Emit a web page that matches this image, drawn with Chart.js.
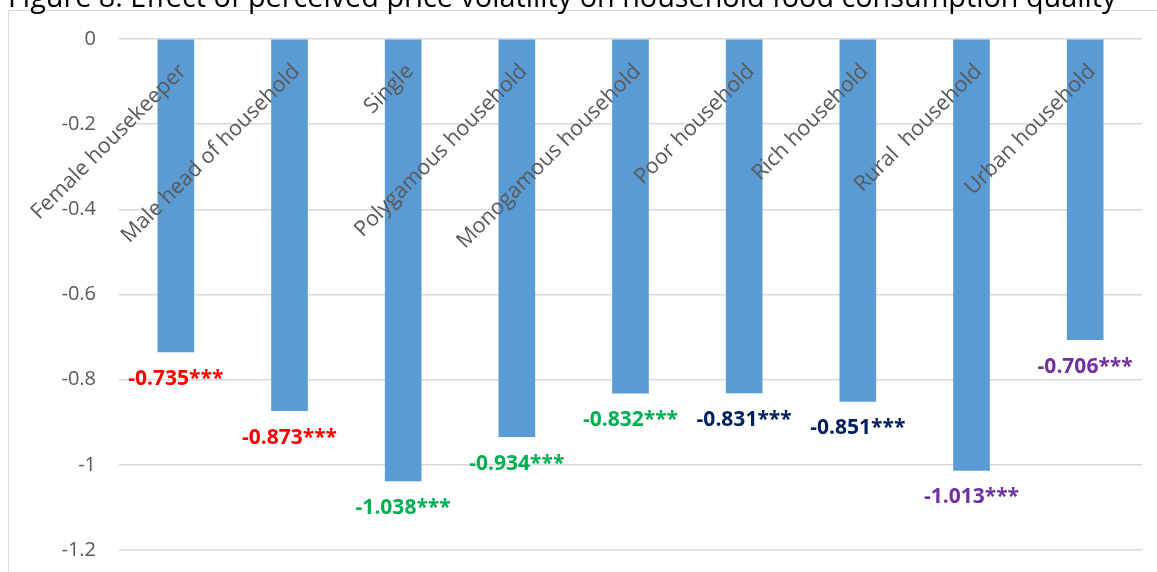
<!DOCTYPE html>
<html>
<head>
<meta charset="utf-8">
<script src="https://cdn.jsdelivr.net/npm/chart.js@4.4.0/dist/chart.umd.min.js"></script>
<style>
  body { margin: 0; background: #fff; }
  #wrap { position: relative; width: 1157px; height: 572px; overflow: hidden; }
  #frame { position: absolute; left: 8px; top: 10px; width: 1200px; height: 600px;
           border-top: 1px solid #d9d9d9; border-left: 1px solid #d9d9d9; }
  canvas { position: absolute; left: 0; top: 0; }
</style>
</head>
<body>
<div id="wrap">
  <div id="frame"></div>
  <canvas id="chart" width="1157" height="572"></canvas>
</div>
<script>
var titleText = 'Figure 8: Effect of perceived price volatility on household food consumption quality';

var categories = [
  'Female housekeeper',
  'Male head of household',
  'Single',
  'Polygamous household',
  'Monogamous household',
  'Poor household',
  'Rich household',
  'Rural  household',
  'Urban household'
];

var effects = [-0.735, -0.873, -1.038, -0.934, -0.832, -0.831, -0.851, -1.013, -0.706];
var stars = ['***', '***', '***', '***', '***', '***', '***', '***', '***'];

var yTicks = [0, -0.2, -0.4, -0.6, -0.8, -1, -1.2];

// label colours by group
var labelColors = ['#FF0000', '#FF0000', '#00B050', '#00B050', '#00B050',
                   '#002060', '#002060', '#7030A0', '#7030A0'];

var gray = '#595959';
var font = "'Open Sans', sans-serif";

var annotate = {
  id: 'annotate',
  afterDatasetsDraw: function(chart) {
    var ctx = chart.ctx;
    var bars = chart.getDatasetMeta(0).data;
    var top = chart.chartArea.top;
    ctx.save();
    // category names, rotated, inside the plot
    ctx.fillStyle = gray;
    ctx.font = '21.5px ' + font;
    ctx.textAlign = 'right';
    ctx.textBaseline = 'middle';
    bars.forEach(function(bar, i) {
      ctx.save();
      ctx.translate(bar.x + 7, top + 29);
      ctx.rotate(-Math.PI / 4);
      ctx.fillText(categories[i], 0, 0);
      ctx.restore();
    });
    // coefficient labels below each bar
    ctx.font = 'bold 21px ' + font;
    ctx.textAlign = 'center';
    bars.forEach(function(bar, i) {
      ctx.fillStyle = labelColors[i];
      ctx.fillText(effects[i].toFixed(3) + stars[i], bar.x, bar.y + 27);
    });
    ctx.restore();
  },
  afterDraw: function(chart) {
    var ctx = chart.ctx;
    ctx.save();
    ctx.fillStyle = '#000';
    ctx.font = '28.8px ' + font;
    ctx.textAlign = 'left';
    ctx.textBaseline = 'alphabetic';
    ctx.fillText(titleText, 8, 7);
    ctx.restore();
  }
};

new Chart(document.getElementById('chart'), {
  type: 'bar',
  data: {
    labels: categories,
    datasets: [{
      data: effects,
      backgroundColor: '#5B9BD5',
      barThickness: 36
    }]
  },
  options: {
    responsive: false,
    animation: false,
    layout: { padding: { top: 39, right: 15, bottom: 22, left: 0 } },
    plugins: {
      legend: { display: false },
      tooltip: { enabled: false }
    },
    scales: {
      x: { display: false },
      y: {
        min: yTicks[yTicks.length - 1],
        max: yTicks[0],
        afterFit: function(scale) { scale.width = 119; },
        afterBuildTicks: function(scale) {
          scale.ticks = yTicks.map(function(v) { return { value: v }; });
        },
        border: { display: false },
        grid: { color: '#d9d9d9', lineWidth: 1.5, drawTicks: true, tickLength: 23, tickColor: 'rgba(0,0,0,0)' },
        ticks: {
          color: gray,
          padding: 0,
          font: { family: font, size: 20 },
          callback: function(v) { return String(Math.round(v * 10) / 10); }
        }
      }
    }
  },
  plugins: [annotate]
});
</script>
</body>
</html>
